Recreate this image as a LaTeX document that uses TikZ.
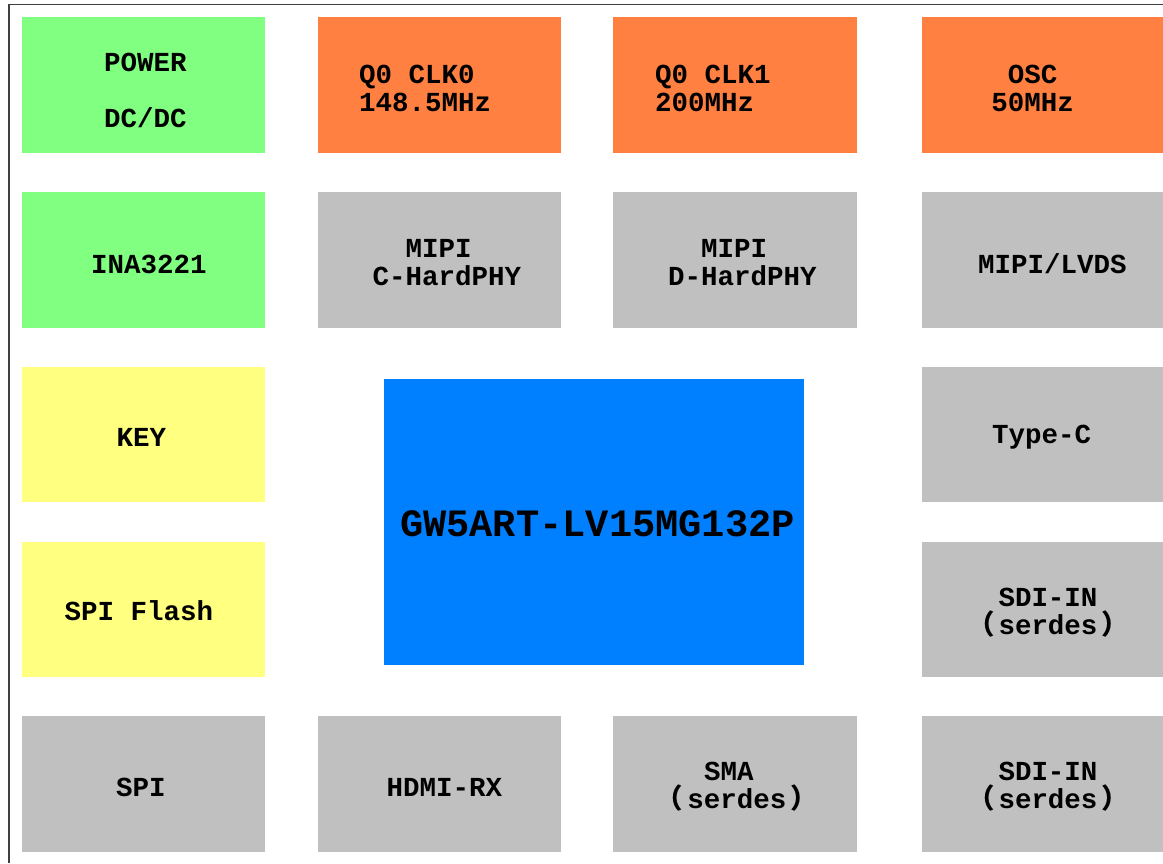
\documentclass[tikz,border=0pt]{standalone}
\usepackage{fontspec}
\setmainfont{Liberation Mono}
\newfontfamily\cjk{Noto Sans CJK SC}
\definecolor{cgreen}{HTML}{80FF80}
\definecolor{corange}{HTML}{FF8040}
\definecolor{cyellow}{HTML}{FFFF80}
\definecolor{cgray}{HTML}{C0C0C0}
\definecolor{cblue}{HTML}{0080FF}
\newcommand{\lp}{{\cjk\fontsize{27.5}{28}\selectfont （}\kern4pt}
\newcommand{\rp}{\kern4pt{\cjk\fontsize{27.5}{28}\selectfont ）}}
\tikzset{
  blk/.style={rectangle, draw=none, inner sep=0pt, outer sep=0pt},
  lbl/.style={inner sep=0pt, font=\bfseries\fontsize{27.5}{28}\selectfont, text=black},
}
\begin{document}
\begin{tikzpicture}[x=1pt, y=-1pt]
\useasboundingbox (0,0) rectangle (1163,863);
\draw[line width=1.5pt, black!75] (9,863) |- (1163,4.5);
% row 1
\fill[cgreen]  (22,17) rectangle (265,153) coordinate (b11);
\fill[corange] (318,17) rectangle (561,153) coordinate (b12);
\fill[corange] (613,17) rectangle (857,153) coordinate (b13);
\fill[corange] (922,17) rectangle (1163,153) coordinate (b14);
% row 2
\fill[cgreen] (22,192) rectangle (265,328) coordinate (b21);
\fill[cgray]  (318,192) rectangle (561,328) coordinate (b22);
\fill[cgray]  (613,192) rectangle (857,328) coordinate (b23);
\fill[cgray]  (922,192) rectangle (1163,328) coordinate (b24);
% row 3
\fill[cyellow] (22,367) rectangle (265,502) coordinate (b31);
\fill[cgray]   (922,367) rectangle (1163,502) coordinate (b34);
% row 4
\fill[cyellow] (22,542) rectangle (265,677) coordinate (b41);
\fill[cgray]   (922,542) rectangle (1163,677) coordinate (b44);
% row 5
\fill[cgray] (22,716) rectangle (265,852) coordinate (b51);
\fill[cgray] (318,716) rectangle (561,852) coordinate (b52);
\fill[cgray] (613,716) rectangle (857,852) coordinate (b53);
\fill[cgray] (922,716) rectangle (1163,852) coordinate (b54);
% chip
\fill[cblue] (384,379) rectangle (804,665) coordinate (chip);

% labels
\node[lbl, align=center] (t11) at (145.5,90) {POWER\\[28pt]DC/DC};
\node[lbl, align=left, anchor=west] (t12) at (359,88) {Q0 CLK0\\148.5MHz};
\node[lbl, align=left, anchor=west] (t13) at (655,88) {Q0 CLK1\\200MHz};
\node[lbl, align=center] (t14) at (1032.5,88) {OSC\\50MHz};
\node[lbl] (t21) at (149,264) {INA3221};
\node[lbl, align=center] (t22) at (447,263) {MIPI\hphantom{M}\\C-HardPHY};
\node[lbl, align=center] (t23) at (742.5,263) {MIPI\hphantom{M}\\D-HardPHY};
\node[lbl] (t24) at (1052.5,264) {MIPI/LVDS};
\node[lbl] (t31) at (141.5,437) {KEY};
\node[lbl] (t34) at (1041.5,437) {Type-C};
\node[lbl, font=\bfseries\fontsize{38.7}{40}\selectfont] (tchip) at (597.5,524) {GW5ART-LV15MG132P};
\node[lbl] (t41) at (139,611) {SPI Flash};
\node[lbl, align=center] (t44) at (1048,613) {SDI-IN\\\lp serdes\rp};
\node[lbl] (t51) at (141,787) {SPI};
\node[lbl] (t52) at (444.5,787) {HDMI-RX};
\node[lbl, align=center] (t53) at (737,787) {SMA\hphantom{M}\\\lp serdes\rp};
\node[lbl, align=center] (t54) at (1048,787) {SDI-IN\\\lp serdes\rp};
\end{tikzpicture}
\end{document}
